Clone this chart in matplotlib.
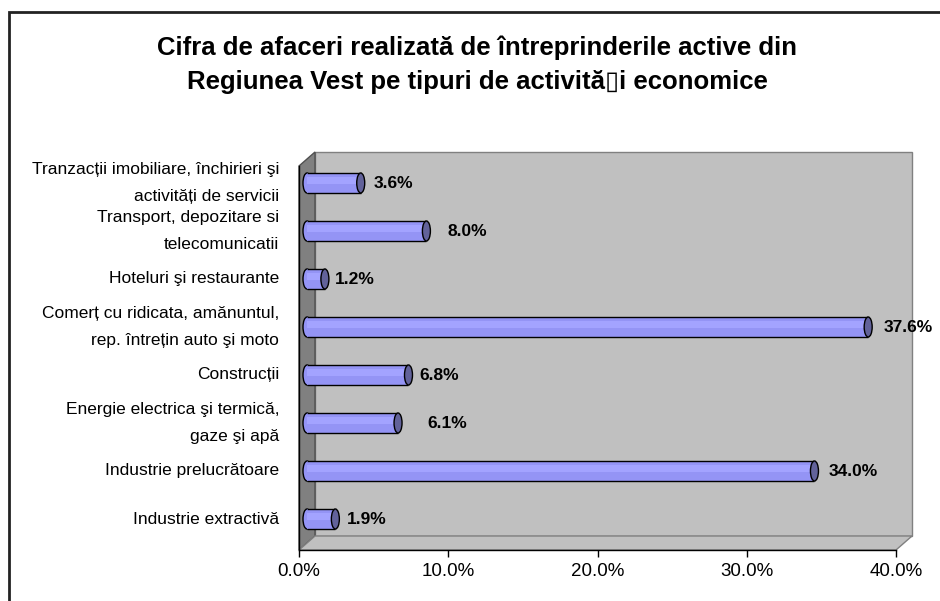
import matplotlib
matplotlib.use('Agg')
import matplotlib.pyplot as plt
import matplotlib.ticker as mtick
from matplotlib.patches import Ellipse, Polygon, Rectangle
from matplotlib.transforms import ScaledTranslation

plt.rcParams['font.family'] = ['Liberation Sans', 'DejaVu Sans']

# data (top to bottom, as in the chart)
title = ('Cifra de afaceri realizată de întreprinderile active din\n'
         'Regiunea Vest pe tipuri de activită\u25afi economice')
categories = [
    'Tranzacții imobiliare, închirieri şi\nactivități de servicii',
    'Transport, depozitare si\ntelecomunicatii',
    'Hoteluri şi restaurante',
    'Comerț cu ridicata, amănuntul,\nrep. întrețin auto şi moto',
    'Construcții',
    'Energie electrica şi termică,\ngaze şi apă',
    'Industrie prelucrătoare',
    'Industrie extractivă',
]
values = [3.6, 8.0, 1.2, 37.6, 6.8, 6.1, 34.0, 1.9]
xticks = [0, 10, 20, 30, 40]

# layout (pixels)
label_gap = [13, 21, 10, 15, 11, 29, 14, 12]   # gap bar end -> value label
DEPTH_X, DEPTH_Y = 16, 14                       # 3d wall depth
BAR_H = 20
CAP_W = 8

body_c = '#9494f5'
light_c = '#a3a3ff'
cap_c = '#62629a'

fig = plt.figure(figsize=(9.4, 6.01), dpi=100)
ax = fig.add_axes([299/940, 1 - 550/601, 597/940, 384/601])
ax.set_xlim(0, 40)
ax.set_ylim(-0.5, 7.5)
ax.patch.set_visible(False)

n = len(categories)
ypos = list(range(n - 1, -1, -1))

px_x = ax.bbox.width / 40.0
px_y = ax.bbox.height / 8.0
ddx = DEPTH_X / px_x
ddy = DEPTH_Y / px_y

# walls and floor
ax.add_patch(Rectangle((ddx, -0.5 + ddy), 40, 8, fc='#c0c0c0',
                       ec='#808080', lw=1, zorder=0, clip_on=False))
ax.add_patch(Polygon([(0, -0.5), (ddx, -0.5 + ddy), (ddx, 7.5 + ddy), (0, 7.5)],
                     closed=True, fc='#808080', ec='#505050', lw=1, zorder=0.5,
                     clip_on=False))
ax.add_patch(Polygon([(0, -0.5), (40, -0.5), (40 + ddx, -0.5 + ddy), (ddx, -0.5 + ddy)],
                     closed=True, fc='#c0c0c0', ec='#808080', lw=1, zorder=0.6,
                     clip_on=False))

# bars sit half way into the depth
mid = ax.transData + ScaledTranslation(DEPTH_X / 2 / 100, DEPTH_Y / 2 / 100,
                                       fig.dpi_scale_trans)
bh = BAR_H / px_y
ew = CAP_W / px_x

for i, (y, v) in enumerate(zip(ypos, values)):
    ax.add_patch(Ellipse((0, y), ew, bh, fc=body_c, ec='black', lw=1,
                         transform=mid, zorder=2, clip_on=False))
    ax.barh(y, v, height=bh, color=body_c, lw=0, transform=mid, zorder=3)
    ax.barh(y + bh * 0.12, v, height=bh * 0.32, color=light_c, lw=0,
            transform=mid, zorder=3.1)
    ax.plot([0, v], [y + bh / 2, y + bh / 2], color='black', lw=1,
            transform=mid, zorder=4, solid_capstyle='butt')
    ax.plot([0, v], [y - bh / 2, y - bh / 2], color='black', lw=1,
            transform=mid, zorder=4, solid_capstyle='butt')
    ax.add_patch(Ellipse((v, y), ew, bh, fc=cap_c, ec='black', lw=1,
                         transform=mid, zorder=5, clip_on=False))
    ax.annotate('%.1f%%' % v, xy=(v, y), xycoords=mid,
                xytext=(label_gap[i] * 0.72, 0), textcoords='offset points',
                ha='left', va='center', fontsize=12.5, fontweight='bold',
                zorder=6)
    ax.annotate(categories[i], xy=(0, y), xycoords=mid,
                xytext=(-28 * 0.72, 0), textcoords='offset points',
                ha='right', va='center', ma='right', fontsize=12.5,
                linespacing=1.95)

ax.set_yticks([])
ax.set_xticks(xticks)
ax.xaxis.set_major_formatter(mtick.FormatStrFormatter('%.1f%%'))
ax.tick_params(axis='x', direction='out', length=5, width=1, color='black',
               labelsize=13.5, pad=4)
for s in ['top', 'right']:
    ax.spines[s].set_visible(False)
for s in ['left', 'bottom']:
    ax.spines[s].set_color('black')
    ax.spines[s].set_linewidth(1)
    ax.spines[s].set_zorder(1)

fig.text(477/940, 1 - 65/601, title, ha='center', va='center', fontsize=18.5,
         fontweight='bold', linespacing=1.5)

# chart frame
fig.add_artist(Rectangle((8.5/940, -0.1), 1.2, 1 - 11.5/601 + 0.1,
                         transform=fig.transFigure, fill=False,
                         ec='#222222', lw=2))

fig.savefig('out.png', dpi=100)
